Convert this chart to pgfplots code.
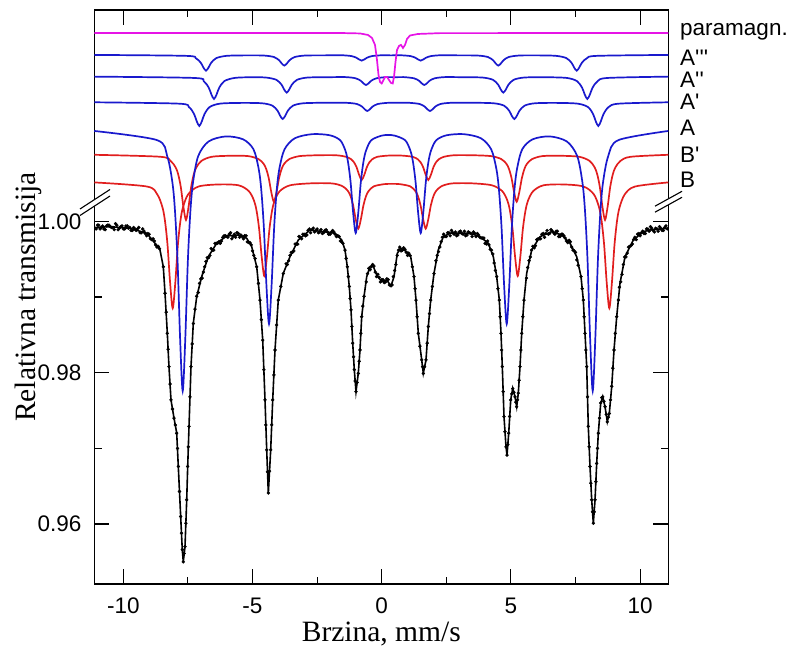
\documentclass[border=0pt]{standalone}
\usepackage{fontspec}
\setmainfont{Liberation Serif}
\newfontfamily\arialf{Liberation Sans}
\usepackage{pgfplots}
\pgfplotsset{compat=1.18}
\definecolor{cblue}{RGB}{25,25,205}
\definecolor{cred}{RGB}{225,30,30}
\definecolor{cmag}{RGB}{230,20,230}
\begin{document}
\begin{tikzpicture}
\begin{axis}[name=ax, at={(0,0)}, anchor=south west,
 scale only axis, width=574bp, height=574bp,
 xmin=-11.122, xmax=11.091, ymin=0.95207, ymax=1.02794,
 xtick={-10,-5,0,5,10}, xticklabels={-10,-5,0,5,10},
 minor xtick={-7.5,-2.5,2.5,7.5},
 ytick={0.96,0.98,1.00}, yticklabels={0.96,0.98,1.00},
 minor ytick={0.97,0.99},
 tick align=inside, major tick length=15bp, minor tick length=7.5bp,
 tick style={line width=1.1bp, black},
 axis line style={line width=1.2bp},
 xticklabel style={font=\arialf\fontsize{22.5bp}{26bp}\selectfont, inner sep=0pt, anchor=north, yshift=-13.8bp},
 yticklabel style={font=\arialf\fontsize{22.5bp}{26bp}\selectfont, inner sep=0pt, anchor=east, xshift=-12.6bp},
 every axis x label/.style={at={(axis description cs:0.5,-0.0995)}, anchor=base, inner sep=0pt, font=\fontsize{29.5bp}{34bp}\selectfont},
 every axis y label/.style={at={(axis description cs:-0.1033,0.5)}, rotate=90, anchor=base, inner sep=0pt, font=\fontsize{29.5bp}{34bp}\selectfont},
 xlabel={Brzina, mm/s}, ylabel={Relativna transmisija},
 clip=false,
]
% B (red)
\addplot[cred, line width=1.7bp, smooth] coordinates {(-11.122,1.00515)
(-9.088,1.00461) (-8.688,1.00358) (-8.488,1.00190) (-8.388,1.00010) (-8.288,0.99688) (-8.188,0.99187) (-8.088,0.98852) (-7.988,0.99187) (-7.888,0.99688) (-7.788,1.00010) (-7.688,1.00190) (-7.488,1.00358) (-7.088,1.00461)
(-6.3155,1.00488)
(-5.543,1.00477) (-5.143,1.00400) (-4.943,1.00276) (-4.843,1.00141) (-4.743,0.99901) (-4.643,0.99527) (-4.543,0.99278) (-4.443,0.99527) (-4.343,0.99901) (-4.243,1.00141) (-4.143,1.00276) (-3.943,1.00400) (-3.543,1.00477)
(-2.7245,1.00503)
(-1.906,1.00501) (-1.506,1.00463) (-1.306,1.00401) (-1.206,1.00334) (-1.106,1.00214) (-1.006,1.00028) (-0.906,0.99904) (-0.806,1.00028) (-0.706,1.00214) (-0.606,1.00334) (-0.506,1.00401) (-0.306,1.00463) (0.094,1.00492)
(0.3985,1.00496)
(0.703,1.00492) (1.103,1.00463) (1.303,1.00401) (1.403,1.00334) (1.503,1.00214) (1.603,1.00028) (1.703,0.99904) (1.803,1.00028) (1.903,1.00214) (2.003,1.00334) (2.103,1.00401) (2.303,1.00463) (2.703,1.00501)
(3.483,1.00503)
(4.263,1.00477) (4.663,1.00400) (4.863,1.00276) (4.963,1.00141) (5.063,0.99901) (5.163,0.99527) (5.263,0.99278) (5.363,0.99527) (5.463,0.99901) (5.563,1.00141) (5.663,1.00276) (5.863,1.00400) (6.263,1.00477)
(7.0355,1.00488)
(7.808,1.00461) (8.208,1.00358) (8.408,1.00190) (8.508,1.00010) (8.608,0.99688) (8.708,0.99187) (8.808,0.98852) (8.908,0.99187) (9.008,0.99688) (9.108,1.00010) (9.208,1.00190) (9.408,1.00358) (9.808,1.00461)
(11.091,1.00515)};
% B' (red)
\addplot[cred, line width=1.7bp, smooth] coordinates {(-11.122,1.00880)
(-8.574,1.00854) (-8.174,1.00800) (-7.974,1.00713) (-7.874,1.00620) (-7.774,1.00453) (-7.674,1.00193) (-7.574,1.00019) (-7.474,1.00193) (-7.374,1.00453) (-7.274,1.00620) (-7.174,1.00713) (-6.974,1.00800) (-6.574,1.00854)
(-5.873,1.00867)
(-5.172,1.00863) (-4.772,1.00824) (-4.572,1.00762) (-4.472,1.00694) (-4.372,1.00573) (-4.272,1.00385) (-4.172,1.00260) (-4.072,1.00385) (-3.972,1.00573) (-3.872,1.00694) (-3.772,1.00762) (-3.572,1.00824) (-3.172,1.00863)
(-2.473,1.00874)
(-1.774,1.00874) (-1.374,1.00853) (-1.174,1.00819) (-1.074,1.00782) (-0.974,1.00717) (-0.874,1.00615) (-0.774,1.00547) (-0.674,1.00615) (-0.574,1.00717) (-0.474,1.00782) (-0.374,1.00819) (-0.174,1.00853) (0.226,1.00869)
(0.5145,1.00871)
(0.803,1.00869) (1.203,1.00853) (1.403,1.00819) (1.503,1.00782) (1.603,1.00717) (1.703,1.00615) (1.803,1.00547) (1.903,1.00615) (2.003,1.00717) (2.103,1.00782) (2.203,1.00819) (2.403,1.00853) (2.803,1.00874)
(3.5135,1.00874)
(4.224,1.00863) (4.624,1.00824) (4.824,1.00762) (4.924,1.00694) (5.024,1.00573) (5.124,1.00385) (5.224,1.00260) (5.324,1.00385) (5.424,1.00573) (5.524,1.00694) (5.624,1.00762) (5.824,1.00824) (6.224,1.00863)
(6.933,1.00867)
(7.642,1.00854) (8.042,1.00800) (8.242,1.00713) (8.342,1.00620) (8.442,1.00453) (8.542,1.00193) (8.642,1.00019) (8.742,1.00193) (8.842,1.00453) (8.942,1.00620) (9.042,1.00713) (9.242,1.00800) (9.642,1.00854)
(11.091,1.00880)};
% A (blue)
\addplot[cblue, line width=1.7bp, smooth] coordinates {(-11.122,1.01195)
(-8.701,1.01075) (-8.301,1.00863) (-8.101,1.00518) (-8.001,1.00146) (-7.901,0.99483) (-7.801,0.98448) (-7.701,0.97758) (-7.601,0.98448) (-7.501,0.99483) (-7.401,1.00146) (-7.301,1.00518) (-7.101,1.00863) (-6.701,1.01056)
(-6.031,1.01123)
(-5.361,1.01084) (-4.961,1.00952) (-4.761,1.00695) (-4.661,1.00419) (-4.561,0.99926) (-4.461,0.99157) (-4.361,0.98644) (-4.261,0.99157) (-4.161,0.99926) (-4.061,1.00419) (-3.961,1.00695) (-3.761,1.00952) (-3.361,1.01099)
(-2.684,1.01153)
(-2.006,1.01138) (-1.606,1.01072) (-1.406,1.00936) (-1.306,1.00789) (-1.206,1.00527) (-1.106,1.00118) (-1.006,0.99846) (-0.906,1.00118) (-0.806,1.00527) (-0.706,1.00789) (-0.606,1.00936) (-0.406,1.01072) (-0.006,1.01133)
(0.2515,1.01141)
(0.509,1.01133) (0.909,1.01072) (1.109,1.00936) (1.209,1.00789) (1.309,1.00527) (1.409,1.00118) (1.509,0.99846) (1.609,1.00118) (1.709,1.00527) (1.809,1.00789) (1.909,1.00936) (2.109,1.01072) (2.509,1.01138)
(3.173,1.01153)
(3.837,1.01099) (4.237,1.00952) (4.437,1.00695) (4.537,1.00419) (4.637,0.99926) (4.737,0.99157) (4.837,0.98644) (4.937,0.99157) (5.037,0.99926) (5.137,1.00419) (5.237,1.00695) (5.437,1.00952) (5.837,1.01084)
(6.5015,1.01123)
(7.166,1.01056) (7.566,1.00863) (7.766,1.00518) (7.866,1.00146) (7.966,0.99483) (8.066,0.98448) (8.166,0.97758) (8.266,0.98448) (8.366,0.99483) (8.466,1.00146) (8.566,1.00518) (8.766,1.00863) (9.166,1.01075)
(11.091,1.01195)};
% A' (blue)
\addplot[cblue, line width=1.7bp, smooth] coordinates {(-11.122,1.01574)
(-7.859,1.01556) (-7.459,1.01511) (-7.259,1.01417) (-7.159,1.01324) (-7.059,1.01261) (-6.959,1.01324) (-6.859,1.01417) (-6.659,1.01511) (-6.259,1.01556)
(-5.445,1.01566)
(-4.631,1.01561) (-4.231,1.01530) (-4.031,1.01463) (-3.931,1.01397) (-3.831,1.01353) (-3.731,1.01397) (-3.631,1.01463) (-3.431,1.01530) (-3.031,1.01561)
(-2.194,1.01568)
(-1.357,1.01567) (-0.957,1.01551) (-0.757,1.01516) (-0.657,1.01482) (-0.557,1.01459) (-0.457,1.01482) (-0.357,1.01516) (-0.157,1.01551) (0.243,1.01567)
(0.656,1.01568)
(1.069,1.01567) (1.469,1.01551) (1.669,1.01516) (1.769,1.01482) (1.869,1.01459) (1.969,1.01482) (2.069,1.01516) (2.269,1.01551) (2.669,1.01567)
(3.5,1.01568)
(4.332,1.01561) (4.732,1.01530) (4.932,1.01463) (5.032,1.01397) (5.132,1.01353) (5.232,1.01397) (5.332,1.01463) (5.532,1.01530) (5.932,1.01561)
(6.757,1.01566)
(7.582,1.01556) (7.982,1.01511) (8.182,1.01417) (8.282,1.01324) (8.382,1.01261) (8.482,1.01324) (8.582,1.01417) (8.782,1.01511) (9.182,1.01556)
(11.091,1.01574)};
% A'' (blue)
\addplot[cblue, line width=1.7bp, smooth] coordinates {(-11.122,1.01913)
(-7.290,1.01896) (-6.890,1.01854) (-6.690,1.01765) (-6.590,1.01677) (-6.490,1.01618) (-6.390,1.01677) (-6.290,1.01765) (-6.090,1.01854) (-5.690,1.01896)
(-5.083,1.01905)
(-4.476,1.01901) (-4.076,1.01871) (-3.876,1.01807) (-3.776,1.01744) (-3.676,1.01702) (-3.576,1.01744) (-3.476,1.01807) (-3.276,1.01871) (-2.876,1.01901)
(-2.142,1.01905)
(-1.408,1.01907) (-1.008,1.01891) (-0.808,1.01858) (-0.708,1.01825) (-0.608,1.01803) (-0.508,1.01825) (-0.408,1.01858) (-0.208,1.01891) (0.192,1.01907)
(0.52,1.01905)
(0.849,1.01907) (1.249,1.01891) (1.449,1.01858) (1.549,1.01825) (1.649,1.01803) (1.749,1.01825) (1.849,1.01858) (2.049,1.01891) (2.449,1.01907)
(3.178,1.01905)
(3.906,1.01901) (4.306,1.01871) (4.506,1.01807) (4.606,1.01744) (4.706,1.01702) (4.806,1.01744) (4.906,1.01807) (5.106,1.01871) (5.506,1.01901)
(6.33,1.01905)
(7.157,1.01896) (7.557,1.01854) (7.757,1.01765) (7.857,1.01677) (7.957,1.01618) (8.057,1.01677) (8.157,1.01765) (8.357,1.01854) (8.757,1.01896)
(11.091,1.01913)};
% A''' (blue)
\addplot[cblue, line width=1.7bp, smooth] coordinates {(-11.122,1.02200)
(-7.600,1.02188) (-7.200,1.02158) (-7.000,1.02096) (-6.900,1.02034) (-6.800,1.01992) (-6.700,1.02034) (-6.600,1.02096) (-6.400,1.02158) (-6.000,1.02188)
(-5.285,1.02194)
(-4.569,1.02192) (-4.169,1.02172) (-3.969,1.02129) (-3.869,1.02087) (-3.769,1.02059) (-3.669,1.02087) (-3.569,1.02129) (-3.369,1.02172) (-2.969,1.02192)
(-2.272,1.02194)
(-1.574,1.02196) (-1.174,1.02185) (-0.974,1.02162) (-0.874,1.02140) (-0.774,1.02125) (-0.674,1.02140) (-0.574,1.02162) (-0.374,1.02185) (0.026,1.02196)
(0.368,1.02194)
(0.709,1.02196) (1.109,1.02185) (1.309,1.02162) (1.409,1.02140) (1.509,1.02125) (1.609,1.02140) (1.709,1.02162) (1.909,1.02185) (2.309,1.02196)
(3.01,1.02194)
(3.712,1.02192) (4.112,1.02172) (4.312,1.02129) (4.412,1.02087) (4.512,1.02059) (4.612,1.02087) (4.712,1.02129) (4.912,1.02172) (5.312,1.02192)
(6.029,1.02194)
(6.746,1.02188) (7.146,1.02158) (7.346,1.02096) (7.446,1.02034) (7.546,1.01992) (7.646,1.02034) (7.746,1.02096) (7.946,1.02158) (8.346,1.02188)
(11.091,1.02200)};
% paramagnetic (magenta)
\addplot[cmag, line width=1.7bp] coordinates {(-11.122,1.0249) (-1.613,1.0249) (-0.840,1.02484) (-0.530,1.02464) (-0.375,1.02424) (-0.259,1.02332) (-0.182,1.02133) (-0.124,1.01935) (-0.066,1.01843) (0,1.01823) (0.070,1.01869) (0.128,1.01909) (0.205,1.01909) (0.283,1.01869) (0.360,1.01830) (0.426,1.01823) (0.476,1.01909) (0.534,1.02107) (0.592,1.02266) (0.670,1.02319) (0.747,1.02332) (0.824,1.02292) (0.902,1.02332) (0.979,1.02411) (1.095,1.02457) (1.405,1.02477) (2.256,1.02488) (11.091,1.0249)};
% fit (black)
\addplot[black, line width=1.6bp] coordinates {
(-11.095,0.99919) (-10.515,0.99930) (-9.741,0.99909) (-9.094,0.99843) (-8.773,0.99711) (-8.580,0.99622) (-8.452,0.99401) (-8.386,0.99054) (-8.297,0.98525) (-8.232,0.98079) (-8.154,0.97639) (-8.038,0.97401) (-7.933,0.97203) (-7.871,0.96757) (-7.779,0.96096) (-7.717,0.95656) (-7.678,0.95502) (-7.612,0.95700) (-7.546,0.96317) (-7.508,0.96757) (-7.457,0.97286) (-7.380,0.98079) (-7.291,0.98653) (-7.159,0.99005) (-6.966,0.99269) (-6.711,0.99533) (-6.385,0.99711) (-5.998,0.99807) (-5.549,0.99820) (-5.224,0.99777) (-5.031,0.99666) (-4.837,0.99401) (-4.710,0.98961) (-4.605,0.98432) (-4.516,0.97639) (-4.450,0.96978) (-4.388,0.96406) (-4.296,0.96978) (-4.218,0.97639) (-4.129,0.98300) (-4.002,0.98961) (-3.808,0.99314) (-3.549,0.99533) (-3.228,0.99754) (-2.775,0.99886) (-2.260,0.99864) (-1.807,0.99843) (-1.548,0.99754) (-1.420,0.99622) (-1.331,0.99401) (-1.254,0.99137) (-1.188,0.98829) (-1.122,0.98389) (-1.060,0.98036) (-0.995,0.97749) (-0.906,0.97992) (-0.840,0.98300) (-0.774,0.98740) (-0.685,0.99005) (-0.580,0.99269) (-0.453,0.99401) (-0.348,0.99424) (-0.193,0.99291) (0,0.99203) (0.193,0.99225) (0.360,0.99146) (0.476,0.99269) (0.604,0.99578) (0.735,0.99644) (0.967,0.99599) (1.122,0.99533) (1.250,0.99269) (1.327,0.98961) (1.416,0.98521) (1.548,0.98168) (1.610,0.97992) (1.714,0.98168) (1.803,0.98608) (1.896,0.98961) (2.024,0.99314) (2.190,0.99622) (2.384,0.99798) (2.643,0.99843) (3.417,0.99843) (3.804,0.99798) (4.125,0.99711) (4.319,0.99533) (4.450,0.99269) (4.551,0.98961) (4.617,0.98521) (4.667,0.98079) (4.733,0.97418) (4.810,0.97022) (4.849,0.96912) (4.915,0.97199) (4.992,0.97639) (5.070,0.97794) (5.159,0.97683) (5.224,0.97551) (5.286,0.97728) (5.352,0.98079) (5.418,0.98521) (5.507,0.98961) (5.611,0.99314) (5.805,0.99622) (6.126,0.99798) (6.579,0.99864) (6.966,0.99820) (7.287,0.99711) (7.546,0.99533) (7.713,0.99269) (7.802,0.98961) (7.868,0.98521) (7.933,0.98079) (7.995,0.97286) (8.061,0.96757) (8.127,0.96317) (8.189,0.96009) (8.255,0.96317) (8.320,0.96802) (8.382,0.97199) (8.475,0.97596) (8.553,0.97683) (8.642,0.97551) (8.731,0.97352) (8.808,0.97463) (8.901,0.97815) (8.990,0.98300) (9.094,0.98740) (9.222,0.99182) (9.416,0.99533) (9.737,0.99754) (10.124,0.99864) (10.383,0.99886) (11.080,0.99909)};
% measured points
\addplot[only marks, mark=*, mark size=1.5bp, black] coordinates {
(-11.0,0.9995) (-10.9,0.9990) (-10.8,0.9994) (-10.7,0.9989) (-10.6,0.9995) (-10.5,0.9993) (-10.4,0.9992) (-10.3,0.9997) (-10.2,0.9989) (-10.1,0.9993) (-10.0,0.9990) (-9.9,0.9994) (-9.8,0.9991) (-9.7,0.9988) (-9.6,0.9992) (-9.5,0.9988) (-9.4,0.9992) (-9.3,0.9985) (-9.2,0.9987) (-9.1,0.9981) (-9.0,0.9983) (-8.9,0.9976) (-8.8,0.9974) (-8.7,0.9966) (-8.6,0.9964)
(-11.05,0.9990) (-10.95,0.9995) (-10.85,0.9992) (-10.75,0.9990) (-10.65,0.9994) (-10.55,0.9995) (-10.45,0.9992) (-10.35,0.9989) (-10.25,0.9995) (-10.15,0.9991) (-10.05,0.9994) (-9.95,0.9990) (-9.85,0.9994) (-9.75,0.9992) (-9.65,0.9988) (-9.55,0.9990) (-9.45,0.9990) (-9.35,0.9985) (-9.25,0.9990) (-9.15,0.9984) (-9.05,0.9984) (-8.95,0.9977) (-8.85,0.9977) (-8.75,0.9969) (-8.65,0.9967)
(-8.452,0.9940) (-8.386,0.9905) (-8.34,0.9880) (-8.297,0.9852) (-8.265,0.9831) (-8.232,0.9808) (-8.19,0.9785) (-8.154,0.9764) (-8.096,0.9752) (-8.038,0.9740) (-7.985,0.9731) (-7.933,0.9720) (-7.90,0.9700) (-7.871,0.9676) (-7.825,0.9643) (-7.779,0.9610) (-7.748,0.9588) (-7.717,0.9566) (-7.678,0.9550) (-7.645,0.9561) (-7.612,0.9570) (-7.58,0.9601) (-7.546,0.9632) (-7.508,0.9676) (-7.483,0.9702) (-7.457,0.9729) (-7.42,0.9768) (-7.380,0.9808) (-7.335,0.9838) (-7.291,0.9865) (-7.225,0.9884) (-7.159,0.9901)
(-7.1,0.9906) (-7.0,0.9924) (-6.9,0.9933) (-6.8,0.9947) (-6.7,0.9952) (-6.6,0.9964) (-6.5,0.9962) (-6.4,0.9971) (-6.3,0.9973) (-6.2,0.9974) (-6.1,0.9981) (-6.0,0.9980) (-5.9,0.9983) (-5.8,0.9977) (-5.7,0.9983) (-5.6,0.9985) (-5.5,0.9979) (-5.4,0.9980) (-5.3,0.9981) (-5.2,0.9973) (-5.1,0.9972) (-5.0,0.9961) (-4.9,0.9951)
(-7.05,0.9918) (-6.95,0.9925) (-6.85,0.9940) (-6.75,0.9952) (-6.65,0.9955) (-6.55,0.9962) (-6.45,0.9971) (-6.35,0.9971) (-6.25,0.9971) (-6.15,0.9979) (-6.05,0.9981) (-5.95,0.9979) (-5.85,0.9985) (-5.75,0.9980) (-5.65,0.9979) (-5.55,0.9984) (-5.45,0.9982) (-5.35,0.9977) (-5.25,0.9981) (-5.15,0.9972) (-5.05,0.9969) (-4.95,0.9955)
(-4.837,0.9940) (-4.77,0.9918) (-4.710,0.9896) (-4.66,0.9870) (-4.605,0.9843) (-4.56,0.9804) (-4.516,0.9764) (-4.483,0.9731) (-4.450,0.9698) (-4.42,0.9669) (-4.388,0.9641) (-4.342,0.9670) (-4.296,0.9698) (-4.257,0.9731) (-4.218,0.9764) (-4.17,0.9797) (-4.129,0.9830) (-4.065,0.9863) (-4.002,0.9896) (-3.905,0.9914) (-3.808,0.9931)
(-3.7,0.9944) (-3.6,0.9948) (-3.5,0.9959) (-3.4,0.9961) (-3.3,0.9970) (-3.2,0.9980) (-3.1,0.9977) (-3.0,0.9983) (-2.9,0.9982) (-2.8,0.9990) (-2.7,0.9989) (-2.6,0.9986) (-2.5,0.9990) (-2.4,0.9986) (-2.3,0.9984) (-2.2,0.9988) (-2.1,0.9986) (-2.0,0.9983) (-1.9,0.9988) (-1.8,0.9983) (-1.7,0.9981) (-1.6,0.9974) (-1.5,0.9971)
(-3.65,0.9943) (-3.55,0.9955) (-3.45,0.9959) (-3.35,0.9970) (-3.25,0.9970) (-3.15,0.9979) (-3.05,0.9983) (-2.95,0.9981) (-2.85,0.9988) (-2.75,0.9985) (-2.65,0.9991) (-2.55,0.9988) (-2.45,0.9985) (-2.35,0.9989) (-2.25,0.9985) (-2.15,0.9989) (-2.05,0.9983) (-1.95,0.9986) (-1.85,0.9986) (-1.75,0.9980) (-1.65,0.9980) (-1.55,0.9973)
(-1.42,0.9962) (-1.375,0.9951) (-1.331,0.9940) (-1.29,0.9927) (-1.254,0.9914) (-1.22,0.9898) (-1.188,0.9883) (-1.155,0.9861) (-1.122,0.9839) (-1.09,0.9821) (-1.060,0.9804) (-1.027,0.9789) (-0.995,0.9775) (-0.95,0.9787) (-0.906,0.9799) (-0.873,0.9815) (-0.840,0.9830) (-0.807,0.9852) (-0.774,0.9874) (-0.73,0.9888) (-0.685,0.9901)
(-0.6,0.9920) (-0.5,0.9938) (-0.4,0.9940) (-0.3,0.9941) (-0.2,0.9927) (-0.1,0.9926) (0,0.9923) (0.1,0.9919) (0.2,0.9924) (0.3,0.9916) (0.4,0.9916) (0.5,0.9935) (0.6,0.9955) (0.7,0.9966) (0.8,0.9962) (0.9,0.9963) (1.0,0.9955) (1.1,0.9955)
(-0.55,0.9931) (-0.45,0.9936) (-0.35,0.9943) (-0.25,0.9933) (-0.15,0.9930) (-0.05,0.9920) (0.05,0.9923) (0.15,0.9920) (0.25,0.9923) (0.35,0.9915) (0.45,0.9927) (0.55,0.9943) (0.65,0.9962) (0.75,0.9961) (0.85,0.9965) (0.95,0.9959) (1.05,0.9958)
(1.186,0.9940) (1.250,0.9927) (1.29,0.9911) (1.327,0.9896) (1.37,0.9874) (1.416,0.9852) (1.48,0.9835) (1.548,0.9817) (1.58,0.9808) (1.610,0.9799) (1.66,0.9808) (1.714,0.9817) (1.76,0.9839) (1.803,0.9861) (1.85,0.9878) (1.896,0.9896) (1.96,0.9914) (2.024,0.9931)
(2.1,0.9948) (2.2,0.9960) (2.3,0.9973) (2.4,0.9983) (2.5,0.9980) (2.6,0.9985) (2.7,0.9988) (2.8,0.9983) (2.9,0.9981) (3.0,0.9986) (3.1,0.9984) (3.2,0.9987) (3.3,0.9982) (3.4,0.9985) (3.5,0.9980) (3.6,0.9984) (3.7,0.9984) (3.8,0.9979) (3.9,0.9978) (4.0,0.9971) (4.1,0.9974) (4.2,0.9963) (4.3,0.9957) (4.4,0.9935)
(2.15,0.9955) (2.25,0.9966) (2.35,0.9979) (2.45,0.9980) (2.55,0.9985) (2.65,0.9981) (2.75,0.9985) (2.85,0.9986) (2.95,0.9982) (3.05,0.9987) (3.15,0.9983) (3.25,0.9981) (3.35,0.9986) (3.45,0.9984) (3.55,0.9986) (3.65,0.9980) (3.75,0.9982) (3.85,0.9978) (3.95,0.9978) (4.05,0.9970) (4.15,0.9969) (4.25,0.9962) (4.35,0.9945)
(4.450,0.9927) (4.50,0.9911) (4.551,0.9896) (4.585,0.9874) (4.617,0.9852) (4.642,0.9830) (4.667,0.9808) (4.70,0.9775) (4.733,0.9742) (4.77,0.9722) (4.810,0.9702) (4.849,0.9691) (4.88,0.9705) (4.915,0.9720) (4.95,0.9742) (4.992,0.9764) (5.030,0.9772) (5.070,0.9779) (5.115,0.9774) (5.159,0.9768) (5.19,0.9761) (5.224,0.9755) (5.255,0.9764) (5.286,0.9773) (5.32,0.9790) (5.352,0.9808) (5.385,0.9830) (5.418,0.9852) (5.46,0.9874) (5.507,0.9896)
(5.6,0.9925) (5.7,0.9948) (5.8,0.9962) (5.9,0.9965) (6.0,0.9976) (6.1,0.9977) (6.2,0.9983) (6.3,0.9979) (6.4,0.9988) (6.5,0.9984) (6.6,0.9987) (6.7,0.9983) (6.8,0.9987) (6.9,0.9980) (7.0,0.9983) (7.1,0.9978) (7.2,0.9972) (7.3,0.9973) (7.4,0.9962) (7.5,0.9959) (7.6,0.9942)
(5.65,0.9939) (5.75,0.9953) (5.85,0.9967) (5.95,0.9968) (6.05,0.9977) (6.15,0.9977) (6.25,0.9984) (6.35,0.9984) (6.45,0.9983) (6.55,0.9989) (6.65,0.9985) (6.75,0.9987) (6.85,0.9980) (6.95,0.9983) (7.05,0.9981) (7.15,0.9974) (7.25,0.9975) (7.35,0.9966) (7.45,0.9961) (7.55,0.9949)
(7.713,0.9927) (7.76,0.9911) (7.802,0.9896) (7.835,0.9874) (7.868,0.9852) (7.90,0.9830) (7.933,0.9808) (7.965,0.9768) (7.995,0.9729) (8.028,0.9702) (8.061,0.9676) (8.094,0.9654) (8.127,0.9632) (8.158,0.9616) (8.189,0.9601) (8.222,0.9616) (8.255,0.9632) (8.288,0.9656) (8.320,0.9680) (8.351,0.9700) (8.382,0.9720) (8.43,0.9740) (8.475,0.9760) (8.515,0.9767) (8.553,0.9768) (8.60,0.9762) (8.642,0.9755) (8.69,0.9745) (8.731,0.9735) (8.77,0.9741) (8.808,0.9746) (8.855,0.9764) (8.901,0.9782) (8.945,0.9806) (8.990,0.9830) (9.04,0.9852) (9.094,0.9874) (9.16,0.9896)
(9.2,0.9913) (9.3,0.9930) (9.4,0.9953) (9.5,0.9958) (9.6,0.9967) (9.7,0.9970) (9.8,0.9979) (9.9,0.9983) (10.0,0.9981) (10.1,0.9987) (10.2,0.9984) (10.3,0.9990) (10.4,0.9993) (10.5,0.9988) (10.6,0.9991) (10.7,0.9987) (10.8,0.9991) (10.9,0.9988) (11.0,0.9994)
(9.25,0.9920) (9.35,0.9943) (9.45,0.9953) (9.55,0.9966) (9.65,0.9968) (9.75,0.9976) (9.85,0.9976) (9.95,0.9984) (10.05,0.9985) (10.15,0.9984) (10.25,0.9990) (10.35,0.9987) (10.45,0.9991) (10.55,0.9986) (10.65,0.9990) (10.75,0.9993) (10.85,0.9988) (10.95,0.9992) (11.05,0.9990)};
% component labels
\begin{scope}[every node/.style={anchor=west, inner sep=0pt, font=\arialf\fontsize{22.5bp}{26bp}\selectfont}]
\node at (axis cs:11.544,1.02508) {paramagn.};
\node at (axis cs:11.544,1.02156) {A\textquotesingle\textquotesingle\textquotesingle};
\node at (axis cs:11.544,1.01869) {A\textquotesingle\textquotesingle};
\node at (axis cs:11.544,1.01582) {A\textquotesingle};
\node at (axis cs:11.544,1.01231) {A};
\node at (axis cs:11.544,1.00878) {B\textquotesingle};
\node at (axis cs:11.544,1.00547) {B};
\end{scope}
\end{axis}
\begin{scope}[shift={(ax.south west)}, xshift=-94.3bp, yshift=584bp, x=1bp, y=-1bp]
\fill[white] (80,215.5) -- (110,196) -- (110,189.5) -- (80,209) -- cycle;
\draw[line width=1.1bp] (80,215.5) -- (110,196) (80,209) -- (110,189.5);
\fill[white] (655,212.2) -- (682,197.3) -- (682,191.3) -- (655,206.2) -- cycle;
\draw[line width=1.1bp] (655,212.2) -- (682,197.3) (655,206.2) -- (682,191.3);
\pgfresetboundingbox
\path (0,0) rectangle (796,648);
\end{scope}
\end{tikzpicture}
\end{document}
